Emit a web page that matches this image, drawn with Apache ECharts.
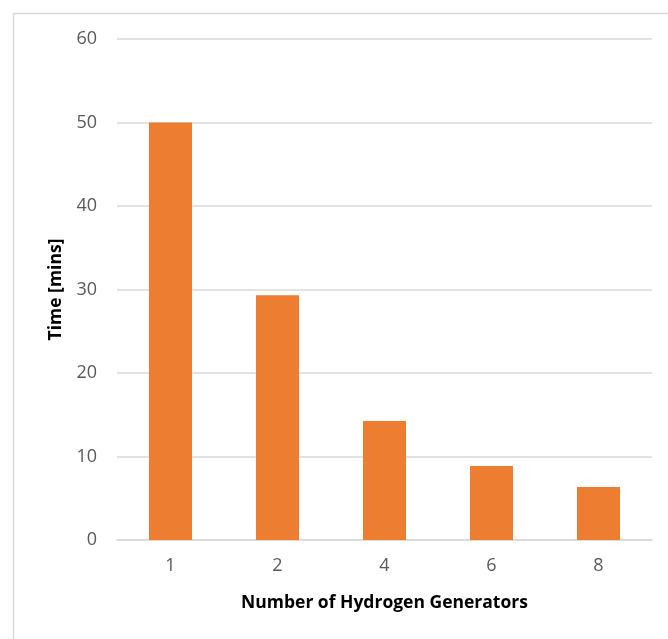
<!DOCTYPE html>
<html><head><meta charset="utf-8">
<script src="https://cdn.jsdelivr.net/npm/echarts@6/dist/echarts.min.js"></script>
<style>html,body{margin:0;padding:0;background:#fff}#c{width:668px;height:639px}</style>
</head><body><div id="c"></div>
<script>
const categories = ['1', '2', '4', '6', '8'];
const timeMins = [50, 29.3, 14.25, 8.85, 6.35];
const yTicks = [0, 10, 20, 30, 40, 50, 60];

const chart = echarts.init(document.getElementById('c'), null, {renderer: 'canvas'});
chart.setOption({
  animation: false,
  backgroundColor: '#fff',
  graphic: [{
    type: 'rect', left: 11, top: 11, z: -1,
    shape: {width: 700, height: 700},
    style: {fill: 'none', stroke: '#d9d9d9', lineWidth: 1.5}
  }],
  grid: {left: 117, right: 16, top: 39, bottom: 99},
  xAxis: {
    type: 'category', data: categories,
    name: 'Number of Hydrogen Generators', nameLocation: 'middle', nameGap: 54,
    nameTextStyle: {fontFamily: 'Open Sans', fontSize: 17.5, fontWeight: 'bold', color: '#000'},
    axisLine: {lineStyle: {color: '#d9d9d9', width: 1.5}},
    axisTick: {show: false},
    axisLabel: {fontFamily: 'Open Sans', fontSize: 18, color: '#595959', margin: 17}
  },
  yAxis: {
    type: 'value', min: yTicks[0], max: yTicks[yTicks.length - 1], interval: 10,
    name: 'Time [mins]', nameLocation: 'middle', nameGap: 52, nameRotate: 90,
    nameTextStyle: {fontFamily: 'Open Sans', fontSize: 17.5, fontWeight: 'bold', color: '#000'},
    axisLine: {show: false}, axisTick: {show: false},
    splitLine: {lineStyle: {color: '#d9d9d9', width: 1.5}},
    axisLabel: {fontFamily: 'Open Sans', fontSize: 18, color: '#595959', margin: 20}
  },
  series: [{
    type: 'bar', data: timeMins, barWidth: 43,
    itemStyle: {color: '#ed7d31'}
  }]
});
</script></body></html>
